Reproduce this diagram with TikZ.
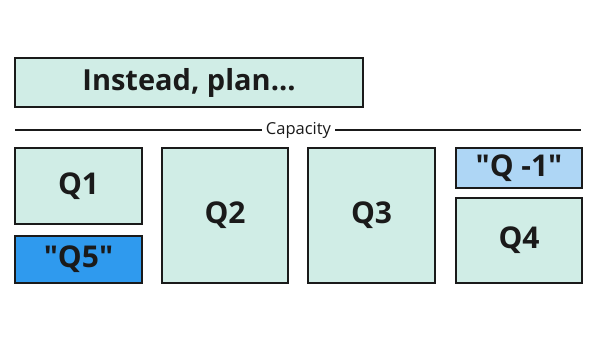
\documentclass[tikz,border=0pt]{standalone}
\usepackage{fontspec}
\setmainfont{Open Sans}
\usepackage{xcolor}
\definecolor{mint}{HTML}{D0EDE6}
\definecolor{qblue}{HTML}{2F9AEE}
\definecolor{qlight}{HTML}{AED6F5}
\definecolor{ink}{HTML}{1A1A1A}
\usetikzlibrary{positioning}

\begin{document}
\begin{tikzpicture}[
    x=1pt, y=-1pt,
    block/.style={draw=ink, line width=2pt, fill=mint, text=ink, inner sep=0pt,
        font=\fontsize{30}{34}\selectfont\bfseries},
    axis/.style={draw=ink, line width=1.4pt}
]
\useasboundingbox (0,0) rectangle (600,348);

% ---- Heading ----
\node[block, font=\fontsize{29}{33}\selectfont\bfseries, minimum width=348pt, minimum height=49pt] (plan) at (189,82.5) {Instead, plan...};

% ---- Capacity axis ----
\node[font=\fontsize{16.5}{18}\selectfont, text=ink, inner sep=4pt] (cap) at (298.5,130) {Capacity};
\coordinate (capL) at (15,130);
\coordinate (capR) at (581,130);
\draw[axis] (capL) -- (cap.west);
\draw[axis] (cap.east) -- (capR);

% ---- Quarters ----
\node[block, minimum width=127pt, minimum height=76pt] (q1) at (78.5,186) {Q1};
\node[block, fill=qblue, minimum width=127pt, minimum height=47pt] (q5) at (78.5,259.5) {\textquotedbl Q5\textquotedbl};
\node[block, minimum width=126pt, minimum height=135pt] (q2) at (225,215.5) {Q2};
\node[block, minimum width=127pt, minimum height=135pt] (q3) at (371.5,215.5) {Q3};
\node[block, fill=qlight, minimum width=126pt, minimum height=40pt] (qm1) at (519,168) {\textquotedbl Q -1\textquotedbl};
\node[block, minimum width=126pt, minimum height=85pt] (q4) at (519,240.5) {Q4};
\end{tikzpicture}
\end{document}
